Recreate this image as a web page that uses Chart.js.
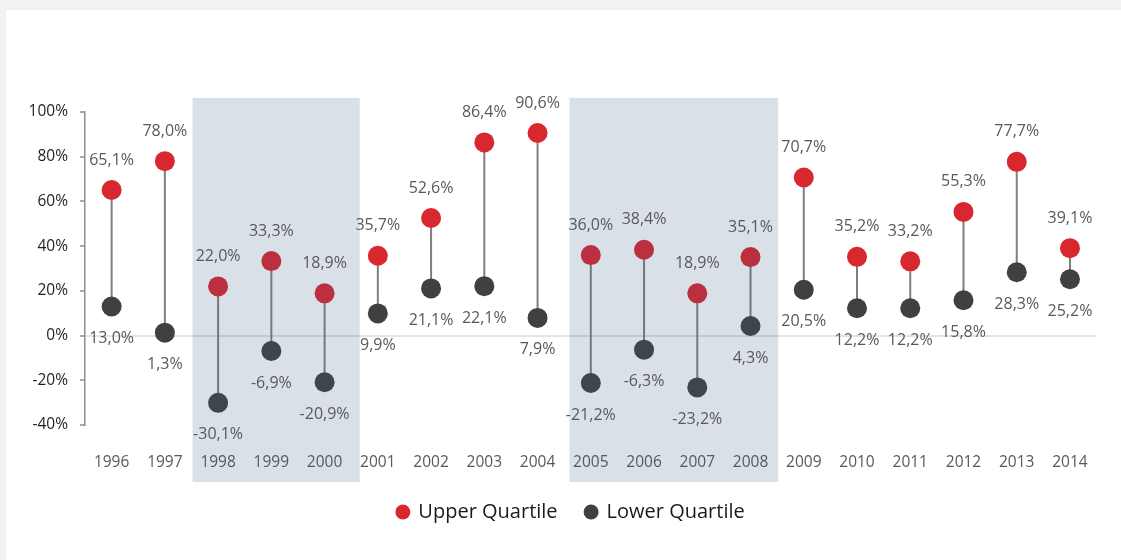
<!DOCTYPE html>
<html>
<head>
<meta charset="utf-8">
<script src="https://cdn.jsdelivr.net/npm/chart.js@4/dist/chart.umd.min.js"></script>
<style>
  html, body { margin: 0; padding: 0; background: #f2f2f2; }
  #card { position: absolute; left: 6px; top: 10px; width: 1115px; height: 550px; background: #ffffff; }
  canvas { display: block; }
</style>
</head>
<body>
<div id="card"><canvas id="c" width="1115" height="550"></canvas></div>
<script>
const years = ['1996','1997','1998','1999','2000','2001','2002','2003','2004','2005','2006','2007','2008','2009','2010','2011','2012','2013','2014'];
const upperQuartile = [65.1, 78.0, 22.0, 33.3, 18.9, 35.7, 52.6, 86.4, 90.6, 36.0, 38.4, 18.9, 35.1, 70.7, 35.2, 33.2, 55.3, 77.7, 39.1];
const lowerQuartile = [13.0, 1.3, -30.1, -6.9, -20.9, 9.9, 21.1, 22.1, 7.9, -21.2, -6.3, -23.2, 4.3, 20.5, 12.2, 12.2, 15.8, 28.3, 25.2];
const yTicks = [-40, -20, 0, 20, 40, 60, 80, 100];
// shaded periods, in category-index units and value units
const shadeStart = [1.52, 8.6];
const shadeEnd = [4.66, 12.52];
const shadeTop = 106.3;
const shadeBottom = -65.5;

const RED = '#d9272f';
const DARK = '#404040';
const FONT = "'Open Sans', 'Noto Sans', sans-serif";

function fmt(v) { return v.toFixed(1).replace('.', ',') + '%'; }

const connectorPlugin = {
  id: 'connectors',
  beforeDatasetsDraw(chart) {
    const ctx = chart.ctx;
    const up = chart.getDatasetMeta(0).data;
    const lo = chart.getDatasetMeta(1).data;
    ctx.save();
    ctx.strokeStyle = '#7f7f7f';
    ctx.lineWidth = 2;
    for (let i = 0; i < up.length; i++) {
      ctx.beginPath();
      ctx.moveTo(up[i].x, up[i].y);
      ctx.lineTo(lo[i].x, lo[i].y);
      ctx.stroke();
    }
    ctx.restore();
  }
};

const shadePlugin = {
  id: 'shade',
  afterDatasetsDraw(chart) {
    const ctx = chart.ctx;
    const xs = chart.scales.x, ys = chart.scales.y;
    ctx.save();
    ctx.fillStyle = 'rgba(60,90,130,0.19)';
    for (let k = 0; k < shadeStart.length; k++) {
      const x0 = xs.getPixelForValue(shadeStart[k]);
      const x1 = xs.getPixelForValue(shadeEnd[k]);
      const y0 = ys.getPixelForValue(shadeTop);
      const y1 = ys.getPixelForValue(shadeBottom);
      ctx.fillRect(x0, y0, x1 - x0, y1 - y0);
    }
    ctx.restore();
  }
};

const labelPlugin = {
  id: 'valueLabels',
  afterDraw(chart) {
    const ctx = chart.ctx;
    ctx.save();
    ctx.font = "16px " + FONT;
    ctx.fillStyle = '#595959';
    ctx.textAlign = 'center';
    ctx.textBaseline = 'middle';
    const up = chart.getDatasetMeta(0).data;
    const lo = chart.getDatasetMeta(1).data;
    up.forEach((p, i) => ctx.fillText(fmt(upperQuartile[i]), p.x, p.y - 30));
    lo.forEach((p, i) => ctx.fillText(fmt(lowerQuartile[i]), p.x, p.y + 32));
    ctx.restore();
  }
};

// centre the legend between the canvas centre and the plot-area centre
const legendShift = {
  id: 'legendShift',
  afterLayout(chart) {
    const lg = chart.legend;
    if (!lg) return;
    const ca = chart.chartArea;
    const d = ((ca.left + ca.right) / 2 - (lg.left + lg.right) / 2) / 2;
    lg.left += d; lg.right += d;
  }
};

new Chart(document.getElementById('c'), {
  type: 'line',
  data: {
    labels: years,
    datasets: [
      { label: 'Upper Quartile', data: upperQuartile, showLine: false, pointRadius: 10, pointHoverRadius: 10,
        pointBackgroundColor: RED, backgroundColor: RED, borderColor: RED, borderWidth: 0, pointBorderWidth: 0 },
      { label: 'Lower Quartile', data: lowerQuartile, showLine: false, pointRadius: 10, pointHoverRadius: 10,
        pointBackgroundColor: DARK, backgroundColor: DARK, borderColor: DARK, borderWidth: 0, pointBorderWidth: 0 }
    ]
  },
  options: {
    responsive: false,
    animation: false,
    events: [],
    layout: { padding: { top: 102, right: 24.4, bottom: 28, left: 0 } },
    scales: {
      x: {
        offset: true,
        grid: { display: false, drawTicks: false },
        border: { display: false },
        ticks: { color: '#595959', font: { family: FONT, size: 15.5 }, padding: 28, maxRotation: 0, autoSkip: false },
        afterFit(s) { s.height = 49; }
      },
      y: {
        min: -40, max: 100,
        afterBuildTicks(s) { s.ticks = yTicks.map(v => ({ value: v })); },
        grid: {
          color: (c) => (c.tick && c.tick.value === 0) ? '#e3e3e3' : 'rgba(0,0,0,0)',
          lineWidth: 2,
          tickColor: '#8c8c8c',
          tickLength: 5,
          tickWidth: 1.5
        },
        border: { display: true, color: '#8c8c8c', width: 1.5 },
        ticks: { color: '#1f1f1f', font: { family: FONT, size: 15.5 }, padding: 12, callback: (v) => v + '%' },
        afterFit(s) { s.width = 79; }
      }
    },
    plugins: {
      legend: {
        position: 'bottom',
        labels: {
          usePointStyle: true, pointStyle: 'circle', boxWidth: 11, boxHeight: 10.6,
          color: '#1a1a1a', font: { family: FONT, size: 20 }, padding: 28
        }
      },
      tooltip: { enabled: false }
    }
  },
  plugins: [connectorPlugin, shadePlugin, labelPlugin, legendShift]
});
</script>
</body>
</html>
